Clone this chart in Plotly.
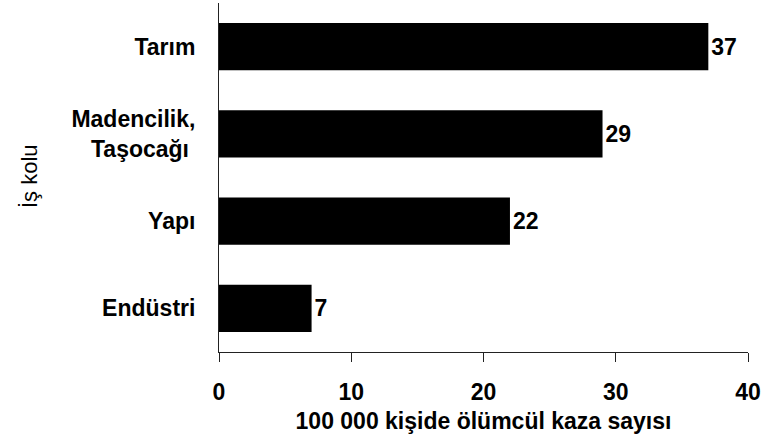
import plotly.graph_objects as go

categories = ["Tarım", "Madencilik,<br>Taşocağı\u00a0", "Yapı", "Endüstri"]
values = [37, 29, 22, 7]
x_ticks = [0, 10, 20, 30, 40]

FONT = "Liberation Sans, Arial, sans-serif"

fig = go.Figure(go.Bar(
    x=values, y=categories, orientation="h",
    marker=dict(color="black", line=dict(width=0)),
    text=[str(v) for v in values], textposition="outside",
    textfont=dict(family=FONT, size=23, color="black", weight="bold"),
    cliponaxis=False, width=0.54,
))

fig.update_layout(
    width=761, height=448,
    margin=dict(l=219, r=13, t=3, b=96, autoexpand=False),
    paper_bgcolor="white", plot_bgcolor="white",
    showlegend=False,
    font=dict(family=FONT, color="black"),
    xaxis=dict(
        range=[0, 40], tickvals=x_ticks, ticktext=[str(t) for t in x_ticks],
        showgrid=False, zeroline=False,
        showline=True, linecolor="#222", linewidth=1,
        ticks="outside", ticklen=9, tickcolor="#222",
        ticklabeloverflow="allow", ticklabelstandoff=10,
        tickfont=dict(family=FONT, size=23, color="black", weight="bold"),
        title=dict(text="100 000 kişide ölümcül kaza sayısı",
                   font=dict(family=FONT, size=23, color="black", weight="bold"),
                   standoff=9),
    ),
    yaxis=dict(
        categoryorder="array", categoryarray=categories,
        range=[3.5, -0.5],
        showgrid=False, zeroline=False,
        showline=True, linecolor="#222", linewidth=1,
        ticks="", ticklabelstandoff=18,
        tickfont=dict(family=FONT, size=23, color="black", weight="bold"),
    ),
    annotations=[dict(
        text="İş kolu", xref="paper", yref="paper",
        x=(29 - 219) / 529, y=(352 - 176) / 349,
        textangle=-90, showarrow=False,
        font=dict(family=FONT, size=22, color="black"),
        xanchor="center", yanchor="middle",
    )],
)

fig.write_html("out.html", config={"displayModeBar": False},
               post_script="document.body.style.margin='0px';")
